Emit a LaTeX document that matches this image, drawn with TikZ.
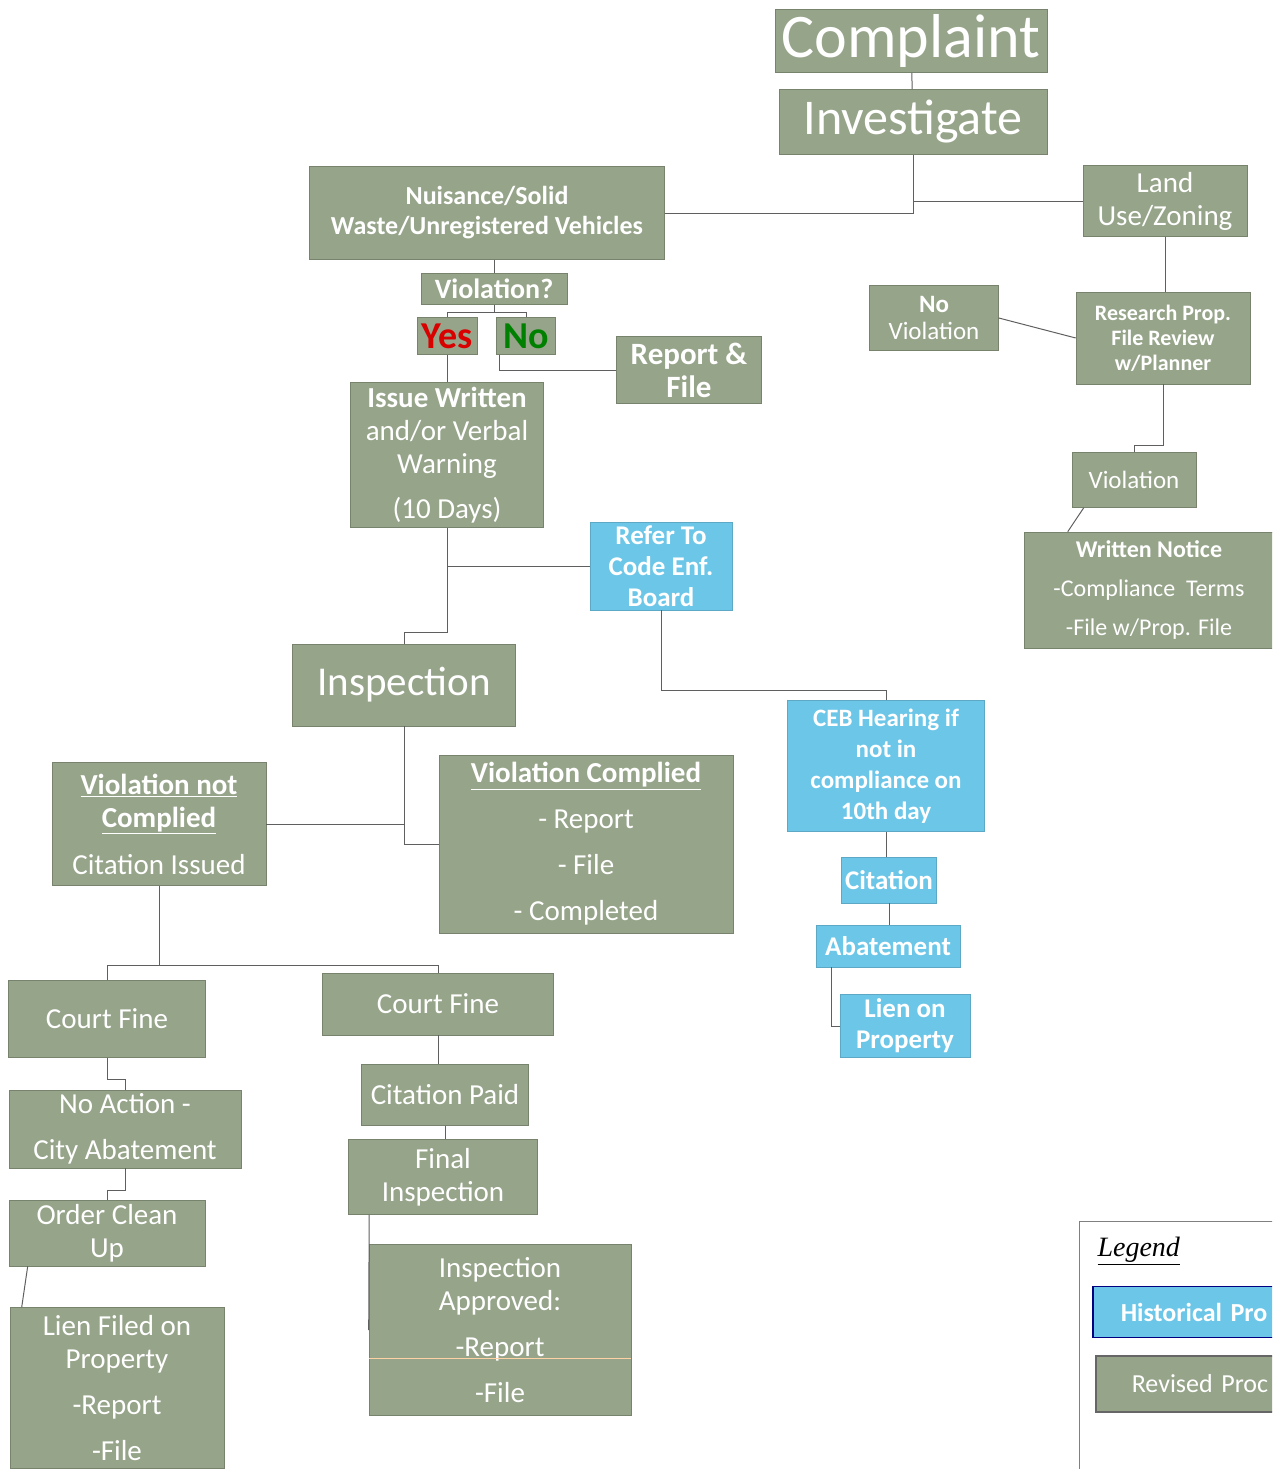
\documentclass[tikz,border=0pt]{standalone}
\usepackage{fontspec}
\setmainfont{Carlito}
\newfontfamily\legendfont{Liberation Serif}
\usetikzlibrary{positioning}

\definecolor{boxgreen}{RGB}{150,164,138}
\definecolor{boxblue}{RGB}{108,198,232}
\definecolor{linegrey}{RGB}{95,95,95}

\begin{document}
\begin{tikzpicture}[
    x=1pt, y=-1pt,
    process/.style={
        draw=boxgreen!80!black,
        rectangle,
        line width=0.6pt,
        fill=boxgreen,
        text=white,
        align=center,
        inner sep=2pt,
        font=\fontsize{29}{33}\selectfont
    },
    historic/.style={
        process,
        fill=boxblue,
        draw=boxblue!85!black,
        font=\bfseries\fontsize{27}{31}\selectfont
    },
    link/.style={
        draw=linegrey,
        line width=1pt
    }
]
\useasboundingbox (0,0) rectangle (1272,1469);
\clip (0,0) rectangle (1272,1469);

% Nodes
\node[process, minimum width=272pt, minimum height=63pt, font=\fontsize{62}{70}\selectfont] (complaint) at (911,41) {Complaint};
\node[process, minimum width=268pt, minimum height=65pt, font=\fontsize{50}{56}\selectfont] (investigate) at (913,122) {Investigate};
\node[process, minimum width=355pt, minimum height=93pt, font=\bfseries\fontsize{26}{30}\selectfont] (nuisance) at (487,213) {Nuisance/Solid\\Waste/Unregistered Vehicles};
\node[process, minimum width=164pt, minimum height=71pt] (land) at (1165,201) {Land\\Use/Zoning};
\node[process, minimum width=146pt, minimum height=31pt, font=\bfseries\fontsize{28}{32}\selectfont] (violq) at (494,289) {Violation?};
\node[process, minimum width=60pt, minimum height=37pt, text=red!85!black, font=\bfseries\fontsize{38}{40}\selectfont] (yes) at (447,336) {Yes};
\node[process, minimum width=59pt, minimum height=37pt, text=green!50!black, font=\bfseries\fontsize{38}{40}\selectfont] (no) at (526,336) {No};
\node[process, minimum width=145pt, minimum height=67pt, font=\bfseries\fontsize{31}{33}\selectfont] (report) at (689,370) {Report \&\\File};
\node[process, minimum width=193pt, minimum height=145pt] (issue) at (447,455) {\textbf{Issue Written}\\and/or Verbal\\Warning\\[12pt](10 Days)};
\node[process, minimum width=129pt, minimum height=65pt, font=\fontsize{25}{27}\selectfont] (noviol) at (934,318) {\textbf{No}\\Violation};
\node[process, minimum width=174pt, minimum height=92pt, font=\bfseries\fontsize{22}{25}\selectfont] (research) at (1163,338) {Research Prop.\\File Review\\w/Planner};
\node[process, minimum width=124pt, minimum height=55pt, font=\fontsize{25}{28}\selectfont] (violation) at (1134,480) {Violation};
\node[process, minimum width=250pt, minimum height=116pt, font=\fontsize{24}{39}\selectfont] (written) at (1149,590) {\textbf{Written Notice}\\-Compliance~~Terms\\-File w/Prop. File};
\node[historic, minimum width=142pt, minimum height=88pt] (refer) at (661,566) {Refer To\\Code Enf.\\Board};
\node[process, minimum width=223pt, minimum height=82pt, font=\fontsize{41}{45}\selectfont] (inspection) at (404,685) {Inspection};
\node[historic, minimum width=197pt, minimum height=131pt, font=\bfseries\fontsize{25}{31}\selectfont] (ceb) at (886,766) {CEB Hearing if\\not in\\compliance on\\10th day};
\node[process, minimum width=214pt, minimum height=123pt] (notcomplied) at (159,824) {\textbf{\underline{Violation not}}\\\textbf{\underline{Complied}}\\[14pt]Citation Issued};
\node[process, minimum width=294pt, minimum height=178pt, font=\fontsize{29}{46}\selectfont] (complied) at (586,844) {\textbf{\underline{Violation Complied}}\\- Report\\- File\\- Completed};
\node[historic, minimum width=95pt, minimum height=46pt] (citation) at (889,880) {Citation};
\node[historic, minimum width=144pt, minimum height=42pt] (abatement) at (888,946) {Abatement};
\node[historic, minimum width=130pt, minimum height=63pt] (lienprop) at (905,1026) {Lien on\\Property};
\node[process, minimum width=197pt, minimum height=77pt] (courtl) at (107,1019) {Court Fine};
\node[process, minimum width=231pt, minimum height=62pt] (courtr) at (438,1004) {Court Fine};
\node[process, minimum width=232pt, minimum height=78pt, font=\fontsize{29}{46}\selectfont] (noaction) at (125,1129) {No Action -\\City Abatement};
\node[process, minimum width=196pt, minimum height=66pt] (cleanup) at (107,1233) {Order Clean\\Up};
\node[process, minimum width=214pt, minimum height=161pt] (lienfiled) at (117,1388) {Lien Filed on\\Property\\[13pt]-Report\\[13pt]-File};
\node[process, minimum width=167pt, minimum height=61pt] (paid) at (445,1095) {Citation Paid};
\node[process, minimum width=189pt, minimum height=75pt] (final) at (443,1177) {Final\\Inspection};
\node[process, minimum width=262pt, minimum height=171pt] (approved) at (500,1330) {Inspection\\Approved:\\[13pt]-Report\\[13pt]-File};
\draw[orange!35, line width=0.8pt] ([yshift=-28pt]approved.west) -- ([yshift=-28pt]approved.east);

% Legend
\node[draw=gray, fill=white, line width=1pt, minimum width=260pt, minimum height=260pt, anchor=north west] (legend) at (1079,1221) {};
\node[font=\legendfont\itshape\fontsize{28}{30}\selectfont, anchor=west] (legendtitle) at (1094,1251) {\underline{Legend}};
\node[historic, anchor=west, minimum height=51pt, draw=blue!50!black, line width=1.5pt, inner xsep=28pt, text width=150pt, align=left, font=\bfseries\fontsize{26}{30}\selectfont] (histkey) at (1092,1312) {Historical Pro};
\node[process, anchor=west, minimum height=56pt, draw=black!60, line width=1.5pt, inner xsep=36pt, text width=150pt, align=left, font=\fontsize{26}{30}\selectfont] (revkey) at (1095,1384) {Revised Proc};

% Connections
\draw[link] (complaint) -- (investigate);
\draw[link] (investigate.south) |- (nuisance.east);
\draw[link] (investigate.south) |- (land.west);
\draw[link] (violq.north |- nuisance.south) -- (violq.north);
\draw[link] (violq.south) -- ++(0,8) -| (yes.north);
\draw[link] (violq.south) -- ++(0,8) -| (no.north);
\draw[link] (yes) -- (issue);
\draw[link] ([xshift=3pt]no.south west) |- (report.west);
\draw[link] (land.south) -- (land.south |- research.north);
\draw[link] (noviol.east) -- (research.west);
\draw[link] (research.south) -- ++(0,61) -| (violation.north);
\draw[link] ([xshift=12pt]violation.south west) -- ([xshift=44pt]written.north west);
\draw[link] (issue.south) -- ++(0,105) -| (inspection.north);
\draw[link] (issue.south |- refer.west) -- (refer.west);
\draw[link] (refer.south) -- ++(0,80) -| (ceb.north);
\draw[link] (inspection.south) |- (complied.west);
\draw[link] (inspection.south |- notcomplied.east) -- (notcomplied.east);
\draw[link] (ceb.south) -- (ceb.south |- citation.north);
\draw[link] (citation.south) -- (citation.south |- abatement.north);
\draw[link] ([xshift=16pt]abatement.south west) |- (lienprop.west);
\draw[link] (notcomplied.south) -- ++(0,80) -| (courtr.north);
\draw[link] (notcomplied.south) ++(0,80) -| (courtl.north);
\draw[link] (courtl.south) -- ++(0,22) -| (noaction.north);
\draw[link] (noaction.south) -- ++(0,22) -| (cleanup.north);
\draw[link] ([xshift=19pt]cleanup.south west) -- ([xshift=12pt]lienfiled.north west);
\draw[link] (courtr.south) -- (courtr.south |- paid.north);
\draw[link] (paid.south) -- (paid.south |- final.north);
\draw[link] ([xshift=21pt]final.south west) -- (approved.west);

\end{tikzpicture}
\end{document}
